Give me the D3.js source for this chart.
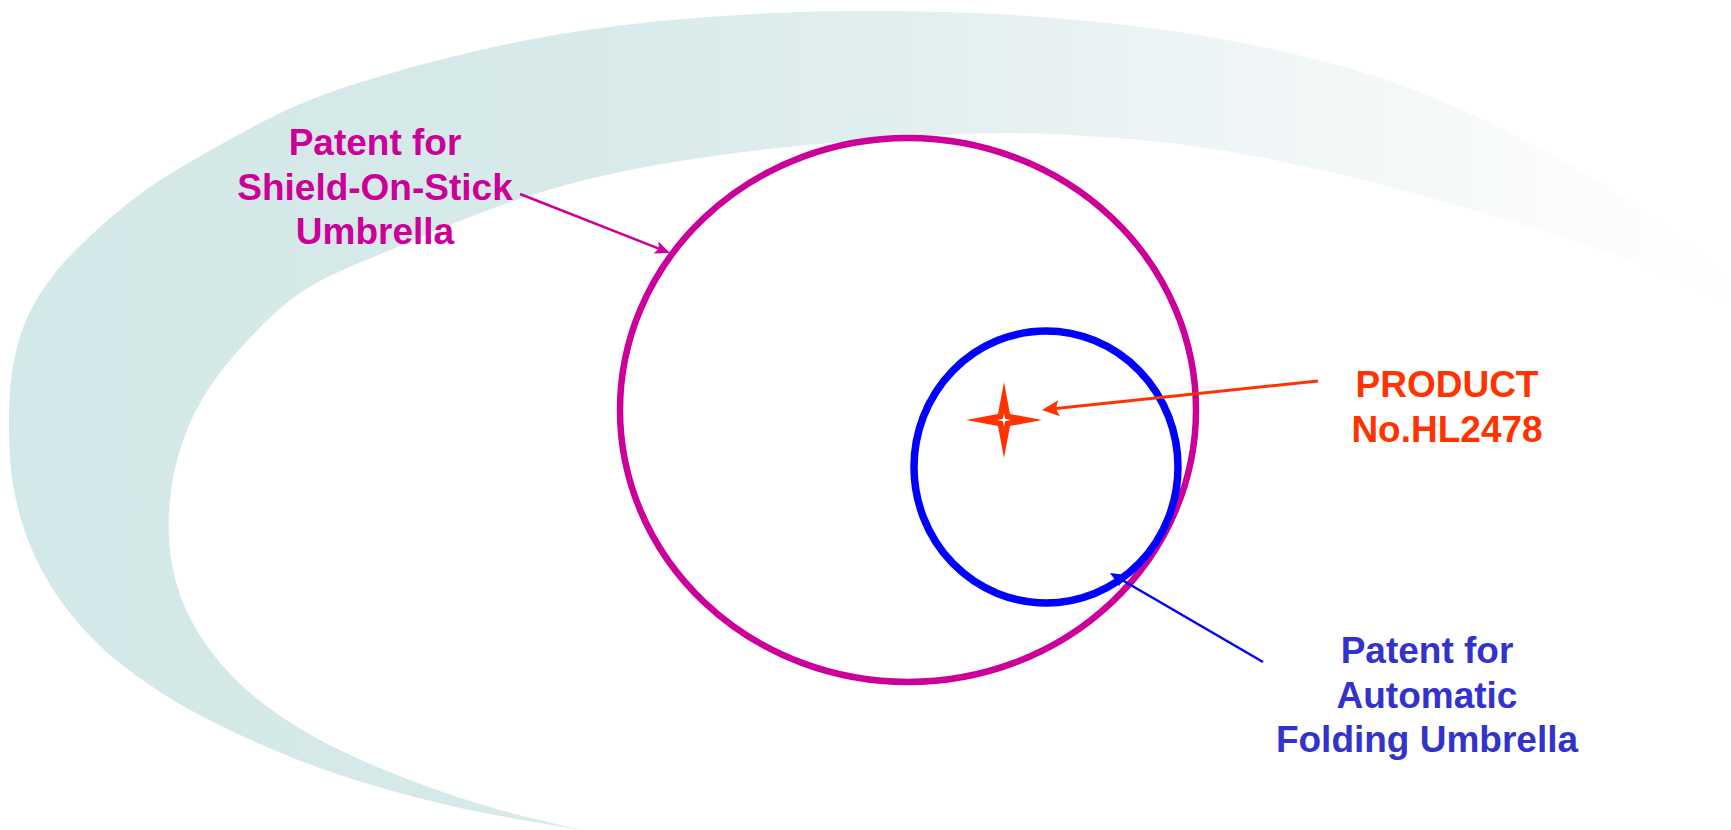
<!DOCTYPE html>
<html>
<head>
<meta charset="utf-8">
<script src="https://cdn.jsdelivr.net/npm/d3@7"></script>
<style>
  html, body { margin: 0; padding: 0; background: #fff; overflow: hidden; }
  svg { display: block; }
</style>
</head>
<body>
<div id="chart"></div>
<script>
/* Diagram values, in picture units (1731 x 830) */
var swooshOuter = [[583, 830], [460, 808], [340, 775], [240, 735], [160, 692], [100, 646], [58, 597], [30, 545], [14, 490], [9, 433], [13, 366], [28, 316], [55, 273], [100, 227], [150, 187], [220, 145], [300, 104], [402, 70], [555, 35], [721, 16], [888, 11], [1054, 18], [1221, 39], [1387, 80], [1531, 144], [1642, 211], [1760, 305]];
var swooshInner = [[583, 830], [500, 810], [410, 780], [320, 740], [255, 697], [210, 650], [182, 600], [170, 550], [170, 500], [180, 450], [200, 403], [233, 357], [300, 293], [400, 246], [517, 200], [620, 172], [760, 150], [900, 138], [1000, 133], [1100, 137], [1200, 147], [1330, 172], [1490, 215], [1650, 268], [1760, 318]];

var patentNames = ["Shield-On-Stick", "Automatic Folding"];
var patentCx = [908, 1046];
var patentCy = [410, 467];
var patentRx = [288, 132];
var patentRy = [272, 136];
var patentColors = ["#cc0099", "#0000ff"];

var productAt = [1004, 420];

var labelLines = [["Patent for", "Shield-On-Stick", "Umbrella"], ["PRODUCT", "No.HL2478"], ["Patent for", "Automatic", "Folding Umbrella"]];
var labelX = [375, 1447, 1427];
var labelY = [155, 397, 663];
var labelColors = ["#cc0099", "#ff3300", "#3333cc"];

var arrowFrom = [[520, 194], [1318, 381], [1263, 662]];
var arrowTo = [[670, 253], [1042, 410], [1110, 573]];
var arrowColors = ["#cc0099", "#ff3300", "#0000ff"];

(function () {
  "use strict";

  var W = 1731, H = 830;
  var x = d3.scaleLinear().domain([0, 1731]).range([0, W]);
  var y = d3.scaleLinear().domain([0, 830]).range([0, H]);

  var svg = d3.select("#chart").append("svg")
    .attr("width", W).attr("height", H)
    .style("font-family", "'Liberation Sans', Arial, sans-serif");

  /* ---- background swoosh (fades out to the right) ---- */
  var defs = svg.append("defs");
  var grad = defs.append("linearGradient").attr("id", "swoosh")
    .attr("gradientUnits", "userSpaceOnUse")
    .attr("x1", 0).attr("y1", 0).attr("x2", W).attr("y2", 0);
  [[0, "#d3e8e8"], [0.35, "#d8eaea"], [0.5, "#e1eeee"], [0.65, "#ebf3f4"], [0.8, "#f4f8f9"], [0.92, "#fbfcfd"], [1, "#ffffff"]]
    .forEach(function (s) {
      grad.append("stop").attr("offset", s[0]).attr("stop-color", s[1]);
    });

  var line = d3.line()
    .x(function (d) { return x(d[0]); })
    .y(function (d) { return y(d[1]); })
    .curve(d3.curveCatmullRom.alpha(0.5));
  var innerBack = swooshInner.slice().reverse();
  var pathD = line(swooshOuter) + "L" + line(innerBack).slice(1) + "Z";
  svg.append("path").attr("d", pathD).attr("fill", "url(#swoosh)");

  /* ---- patent rings ---- */
  svg.selectAll("ellipse.patent").data(patentNames).enter()
    .append("ellipse").attr("class", "patent")
    .attr("cx", function (d, i) { return x(patentCx[i]); })
    .attr("cy", function (d, i) { return y(patentCy[i]); })
    .attr("rx", function (d, i) { return x(patentRx[i]) - x(0); })
    .attr("ry", function (d, i) { return y(patentRy[i]) - y(0); })
    .attr("fill", "none")
    .attr("stroke", function (d, i) { return patentColors[i]; })
    .attr("stroke-width", function (d, i) { return i === 0 ? 6.5 : 7.5; });

  /* ---- product star ---- */
  function starPts(rOut, rIn) {
    var pts = [];
    for (var k = 0; k < 8; k++) {
      pts.push([k * Math.PI / 4, k % 2 === 0 ? rOut : rIn]);
    }
    return pts;
  }
  var radial = d3.lineRadial()
    .angle(function (d) { return d[0]; })
    .radius(function (d) { return d[1]; })
    .curve(d3.curveLinearClosed);
  var star = svg.append("g")
    .attr("transform", "translate(" + x(productAt[0]) + "," + y(productAt[1]) + ")");
  star.append("path").attr("d", radial(starPts(38, 8.5))).attr("fill", "#ff3300");
  star.append("path").attr("d", radial(starPts(7, 1.6))).attr("fill", "#fff");

  /* ---- arrows ---- */
  arrowFrom.forEach(function (a, i) {
    var b = arrowTo[i];
    var x0 = x(a[0]), y0 = y(a[1]), x1 = x(b[0]), y1 = y(b[1]);
    var dx = x1 - x0, dy = y1 - y0, len = Math.sqrt(dx * dx + dy * dy) || 1;
    var ux = dx / len, uy = dy / len;
    var hl = i === 1 ? 17 : 15, hw = i === 1 ? 8 : 6.5;
    var lw = i === 1 ? 3 : 2.5;
    svg.append("line")
      .attr("x1", x0).attr("y1", y0)
      .attr("x2", x1 - ux * (hl - 3)).attr("y2", y1 - uy * (hl - 3))
      .attr("stroke", arrowColors[i]).attr("stroke-width", lw);
    var bx = x1 - ux * hl, by = y1 - uy * hl;
    svg.append("path")
      .attr("d", "M" + x1 + "," + y1 +
        "L" + (bx - uy * hw) + "," + (by + ux * hw) +
        "L" + (bx + ux * 3) + "," + (by + uy * 3) +
        "L" + (bx + uy * hw) + "," + (by - ux * hw) + "Z")
      .attr("fill", arrowColors[i]);
  });

  /* ---- labels ---- */
  labelLines.forEach(function (lines, i) {
    var t = svg.append("text")
      .attr("text-anchor", "middle")
      .attr("fill", labelColors[i])
      .attr("font-size", 37)
      .attr("font-weight", "bold");
    lines.forEach(function (s, k) {
      t.append("tspan")
        .attr("x", x(labelX[i]))
        .attr("y", y(labelY[i]) + k * 44.5)
        .text(s);
    });
  });
})();
</script>
</body>
</html>
